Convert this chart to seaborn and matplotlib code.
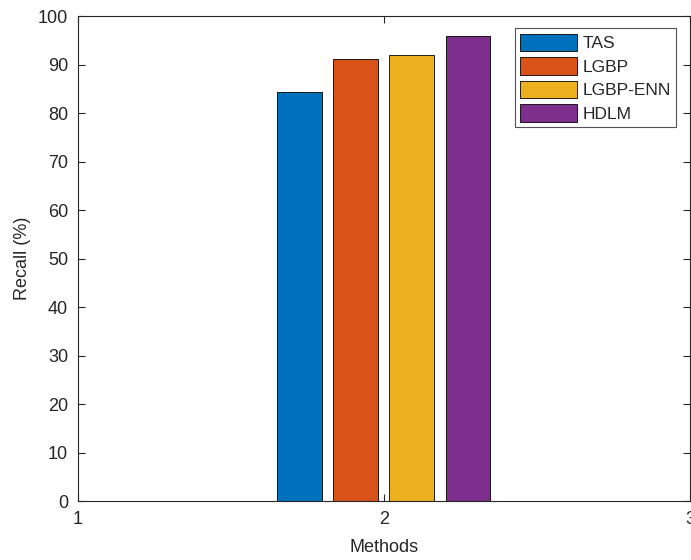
import matplotlib.pyplot as plt
import pandas as pd
import seaborn as sns

methods = ["1", "2", "3"]
series = ["TAS", "LGBP", "LGBP-ENN", "HDLM"]
tas = [0, 84.3, 0]
lgbp = [0, 91.2, 0]
lgbp_enn = [0, 92.0, 0]
hdlm = [0, 95.9, 0]
colors = ["#0072BD", "#D95319", "#EDB120", "#7E2F8E"]


def recall_plot():
    rows = []
    for name, vals in zip(series, [tas, lgbp, lgbp_enn, hdlm]):
        for m, v in zip(methods, vals):
            rows.append({"Methods": m, "Recall": v, "Series": name})
    df = pd.DataFrame(rows)

    sns.set_style("white")
    plt.rcParams["font.family"] = ["Liberation Sans", "DejaVu Sans"]
    dark = "#262626"

    fig = plt.figure(figsize=(6.91, 5.6), dpi=100)
    ax = fig.add_axes([0.1125, 0.105, 0.886, 0.866])
    sns.barplot(
        data=df,
        x="Methods",
        y="Recall",
        hue="Series",
        hue_order=series,
        palette=colors,
        width=0.733,
        gap=0.2,
        edgecolor="black",
        linewidth=0.6,
        saturation=1,
        ax=ax,
    )
    ax.set_xlim(0, 2)
    ax.set_ylim(0, 100)
    ax.set_yticks(range(0, 101, 10))
    ax.set_xlabel("Methods", fontsize=13, color=dark, labelpad=8)
    ax.set_ylabel("Recall (%)", fontsize=13, color=dark, labelpad=5)
    ax.tick_params(axis="both", direction="in", length=5, width=0.8,
                   labelsize=13, colors=dark, top=True, right=True,
                   left=True, bottom=True, pad=7)
    for s in ax.spines.values():
        s.set_visible(True)
        s.set_color(dark)
        s.set_linewidth(0.8)

    leg = ax.legend(loc="upper right", bbox_to_anchor=(0.977, 0.975),
                    fontsize=12.5, frameon=True, fancybox=False,
                    edgecolor=dark, borderaxespad=0, handlelength=3.3,
                    handleheight=1.2, labelspacing=0.33, borderpad=0.3,
                    handletextpad=0.3)
    leg.get_frame().set_linewidth(0.8)

    fig.savefig("out.png", dpi=100)


if __name__ == "__main__":
    recall_plot()
